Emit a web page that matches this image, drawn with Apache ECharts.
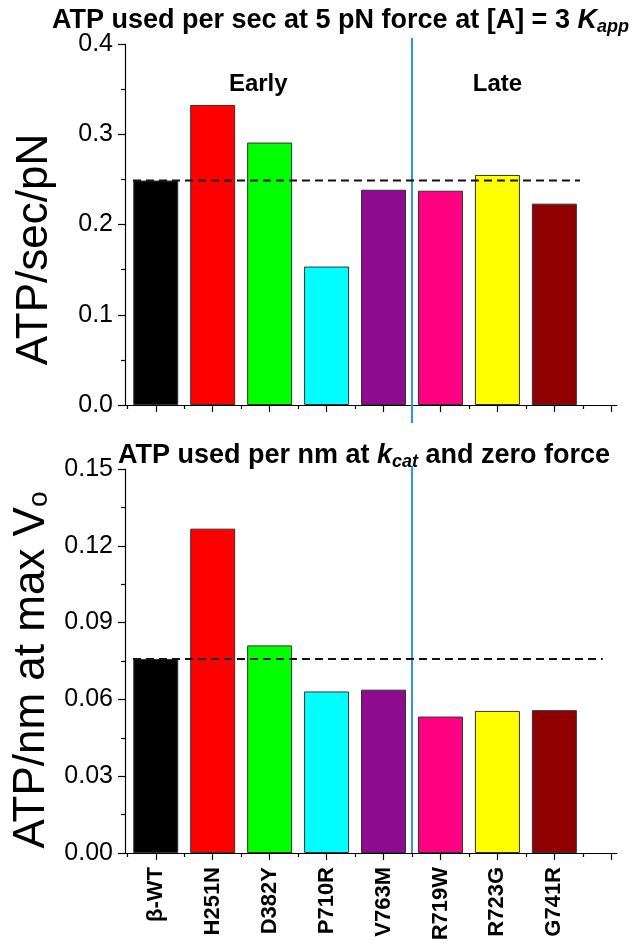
<!DOCTYPE html>
<html><head><meta charset="utf-8">
<script src="https://cdn.jsdelivr.net/npm/echarts@6/dist/echarts.min.js"></script>
<style>html,body{margin:0;padding:0;background:#fff}#c{width:633px;height:945px}</style>
</head><body><div id="c"></div>
<script>
// ---- data ----
const categories = ['β-WT','H251N','D382Y','P710R','V763M','R719W','R723G','G741R'];
const barColors = ['#000000','#ff0000','#00ff00','#00ffff','#8e0a8e','#ff0080','#ffff00','#900000'];
const atpPerSecPerPN = [0.2487,0.3325,0.2908,0.1534,0.2385,0.2374,0.2549,0.2231];
const atpPerNm = [0.0758,0.1267,0.0811,0.0631,0.0638,0.0533,0.0555,0.0558];
const groupLabels = ['Early','Late'];
const topYTicks = [0,0.1,0.2,0.3,0.4];
const bottomYTicks = [0,0.03,0.06,0.09,0.12,0.15];

// ---- layout / style ----
const FONT = '"Liberation Sans", Arial, sans-serif';
const xs = categories.map((c,i)=>i+1);
const majorX = [1,2,3,4,5,6,7,8,9];
const minorX = [0.5,1.5,2.5,3.5,4.5,5.5,6.5,7.5,8.5];
const X_MIN = 0.46, X_MAX = 9.1;
const DIVIDER_X = 5.5;

function xAxes(gridIndex, withLabels){
  return [{
    type:'value', gridIndex, min:X_MIN, max:X_MAX, position:'bottom',
    axisLine:{show:true, onZero:false, lineStyle:{color:'#000', width:1.2}},
    axisTick:{show:true, customValues:majorX, length:7, lineStyle:{color:'#000', width:1.2}},
    axisLabel: withLabels ? {show:true, customValues:xs, formatter:v=>categories[Math.round(v)-1]||'',
      rotate:90, fontSize:22, fontWeight:'bold', color:'#000', fontFamily:FONT, margin:14} : {show:false},
    splitLine:{show:false}
  },{
    type:'value', gridIndex, min:X_MIN, max:X_MAX, position:'bottom',
    axisLine:{show:false},
    axisTick:{show:true, customValues:minorX, length:4, lineStyle:{color:'#000', width:1.2}},
    axisLabel:{show:false}, splitLine:{show:false}
  }];
}
function yAxis(gridIndex, ticks, digits, name, shift){
  return {
    type:'value', gridIndex, min:ticks[0], max:ticks[ticks.length-1], interval:ticks[1]-ticks[0],
    axisLine:{show:true, lineStyle:{color:'#000', width:1.2}},
    axisTick:{show:true, length:7, lineStyle:{color:'#000', width:1.2}},
    minorTick:{show:true, splitNumber:2, length:4, lineStyle:{color:'#000', width:1.2}},
    splitLine:{show:false},
    axisLabel:{fontSize:25, color:'#000', fontFamily:FONT, margin:12, formatter:v=>v.toFixed(digits)},
    name, nameLocation:'middle', nameGap:68, nameRotate:90,
    nameTextStyle:{fontSize:44, color:'#000', fontFamily:FONT, padding:[0,shift,0,0],
      rich:{a:{fontSize:44, color:'#000', fontFamily:FONT}, s:{fontSize:28, color:'#000', fontFamily:FONT, padding:[16,0,0,0]}}}
  };
}
function bars(xi, yi, vals){
  return {type:'bar', xAxisIndex:xi, yAxisIndex:yi, barWidth:45, clip:false, z:2,
    itemStyle:{borderColor:'#333', borderWidth:1},
    data: xs.map((x,i)=>({value:[x, vals[i]], itemStyle:{color:barColors[i]}}))};
}
function refLine(xi, yi, y, x0, x1){
  return {type:'line', xAxisIndex:xi, yAxisIndex:yi, symbol:'none', silent:true, z:5,
    lineStyle:{type:[8,5], color:'#111', width:2}, data:[[x0,y],[x1,y]]};
}
function divider(xi, yi, y0, y1){
  return {type:'line', xAxisIndex:xi, yAxisIndex:yi, symbol:'none', silent:true, clip:false, z:4,
    lineStyle:{color:'#2b9ad6', width:2}, data:[[DIVIDER_X,y0],[DIVIDER_X,y1]]};
}
const richTitle = {
  n:{fontSize:27, fontWeight:'bold', fontFamily:FONT, color:'#000', lineHeight:30},
  i:{fontSize:27, fontWeight:'bold', fontStyle:'italic', fontFamily:FONT, color:'#000', lineHeight:30},
  s:{fontSize:18, fontWeight:'bold', fontStyle:'italic', fontFamily:FONT, color:'#000', lineHeight:30, padding:[12,0,0,0]}
};

const chart = echarts.init(document.getElementById('c'), null, {renderer:'canvas'});
chart.setOption({
  animation:false,
  backgroundColor:'#fff',
  title:[
    {left:47, top:1, text:'{n|ATP used per sec at 5 pN force at [A] = 3 }{i|K}{s|app}', textStyle:{rich:richTitle}},
    {left:113, top:436, text:'{n|ATP used per nm at }{i|k}{s|cat}{n| and zero force}', textStyle:{rich:richTitle}}
  ],
  grid:[
    {left:125, right:16, top:44, height:361},
    {left:125, right:16, top:469, height:384}
  ],
  xAxis:[...xAxes(0,false), ...xAxes(1,true)],
  yAxis:[
    yAxis(0, topYTicks, 1, 'ATP/sec/pN', 50),
    yAxis(1, bottomYTicks, 2, '{a|ATP/nm at max V}{s|o}', 18)
  ],
  series:[
    bars(0,0,atpPerSecPerPN),
    bars(2,1,atpPerNm),
    refLine(0,0,atpPerSecPerPN[0],0.6,8.45),
    refLine(2,1,atpPerNm[0],0.6,8.85),
    divider(0,0,-0.02,0.4066),
    divider(2,1,0,0.1512),
    {type:'custom', xAxisIndex:0, yAxisIndex:0, silent:true, z:6, clip:false,
     renderItem:(params, api)=>{
       const p = api.coord([api.value(0), api.value(1)]);
       return {type:'text', x:p[0], y:p[1], style:{text:groupLabels[params.dataIndex], fill:'#000',
         font:'bold 24px '+FONT, align:'center', verticalAlign:'middle'}};
     },
     data:[[2.8,0.355],[7,0.355]]}
  ]
});
</script></body></html>
